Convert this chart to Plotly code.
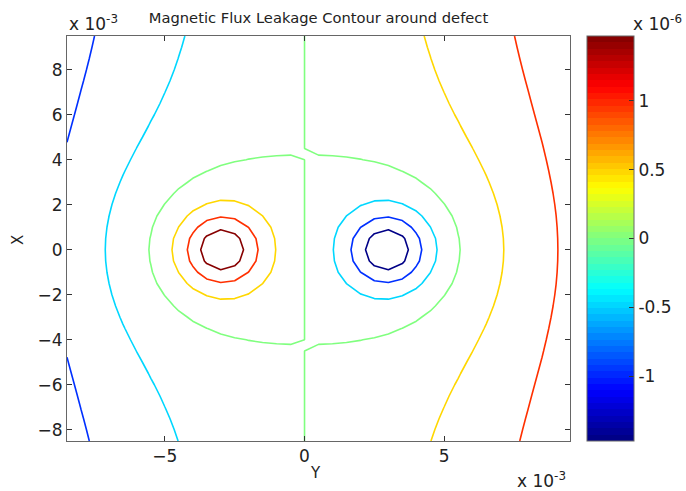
import numpy as np
import plotly.graph_objects as go

# Scan grid (units of 1e-3 m), 0.5 mm step
x_mm = np.arange(-8.5, 9.51, 0.5)
y_mm = np.arange(-8.5, 9.51, 0.5)

# Leakage model: two opposite poles at the defect walls plus the magnetising background
pole_x = [-2.98, 2.98]         # pole positions along Y axis (mm)
pole_q = [17.39, -17.39]       # pole strengths
pole_lift = 1.90               # sensor lift-off above the poles (mm)
pole_stretch = 1.146           # elongation of the poles along X
pole_power = 1.63              # fall-off exponent
bg_lin = 0.0407                # background gradient (1e-6 per mm)
bg_cub = 0.000868              # cubic growth of the background along Y
bg_cross = 0.001687            # background growth along X
bg_scale = 8.6                 # decay length of the non-linear background (mm)

# Contour levels and colour limits (units of 1e-6)
levels = [-1.47, -0.98, -0.49, 0.0, 0.49, 0.98, 1.47]
c_lim = [-1.47, 1.47]
cbar_ticks = [-1, -0.5, 0, 0.5, 1]
cbar_labels = ["-1", "-0.5", "0", "0.5", "1"]
x_ticks = [-5, 0, 5]
y_ticks = [-8, -6, -4, -2, 0, 2, 4, 6, 8]

XX, YY = np.meshgrid(x_mm, y_mm)
damp = 1.0 / (1.0 + (YY / bg_scale) ** 2)
B = bg_lin * XX + (bg_cub * XX ** 3 + bg_cross * XX * YY ** 2) * damp
for px, q in zip(pole_x, pole_q):
    B = B + q * ((XX - px) ** 2 + (YY / pole_stretch) ** 2 + pole_lift ** 2) ** (-pole_power)


def jet(n=64):
    out = []
    for i in range(n):
        t = (i + 0.5) / n
        r = np.clip(1.5 - abs(4 * t - 3), 0, 1)
        g = np.clip(1.5 - abs(4 * t - 2), 0, 1)
        b = np.clip(1.5 - abs(4 * t - 1), 0, 1)
        out.append("rgb(%d,%d,%d)" % (round(r * 255), round(g * 255), round(b * 255)))
    return out


jet_cols = jet(64)
jet_smooth = [[i / 63, c] for i, c in enumerate(jet_cols)]
jet_steps = []
for i, c in enumerate(jet_cols):
    jet_steps.append([i / 64, c])
    jet_steps.append([(i + 1) / 64, c])

FONT = "DejaVu Sans"
TXT = "#222222"
AX = "#666666"
PL, PR, PT, PB = 67, 570, 36, 441  # plot area in pixels
PW, PH = PR - PL, PB - PT

fig = go.Figure()
fig.add_trace(go.Contour(
    x=x_mm, y=y_mm, z=B,
    contours=dict(coloring="lines", start=levels[0], end=levels[-1] + 1e-4,
                  size=levels[1] - levels[0], showlabels=False),
    line=dict(width=1.6, smoothing=0),
    colorscale=jet_smooth, zmin=c_lim[0], zmax=c_lim[1], zauto=False,
    showscale=False, hoverinfo="skip",
))

cb_x = (587 - PL) / PW
fig.add_trace(go.Scatter(
    x=[None], y=[None], mode="markers", showlegend=False, hoverinfo="skip",
    marker=dict(color=[0], cmin=c_lim[0], cmax=c_lim[1], colorscale=jet_steps,
                showscale=True,
                colorbar=dict(x=cb_x, xanchor="left", xpad=0, ypad=0,
                              y=0.5, yanchor="middle", len=1.0, lenmode="fraction",
                              thickness=47, outlinewidth=1, outlinecolor=AX,
                              tickvals=cbar_ticks, ticktext=cbar_labels,
                              ticks="inside", ticklen=5, tickcolor="#333333",
                              tickfont=dict(family=FONT, size=17, color=TXT))),
))

# tick marks on the left edge of the colour bar
for v in cbar_ticks:
    yy = (v - c_lim[0]) / (c_lim[1] - c_lim[0])
    fig.add_shape(type="line", xref="paper", yref="paper",
                  x0=cb_x, x1=cb_x + 5 / PW, y0=yy, y1=yy,
                  line=dict(color="#333333", width=1))

fig.update_layout(
    width=686, height=491,
    margin=dict(l=PL, r=686 - PR, t=PT, b=491 - PB, autoexpand=False),
    paper_bgcolor="white", plot_bgcolor="white",
    showlegend=False,
    font=dict(family=FONT, color=TXT),
    title=dict(text="Magnetic Flux Leakage Contour around defect",
               x=(PL + PR) / 2 / 686, xanchor="center", y=1 - 18 / 491, yanchor="middle",
               font=dict(family=FONT, size=14.7, color=TXT)),
    xaxis=dict(range=[-8.5, 9.5], tickvals=x_ticks, ticks="inside", ticklen=5,
               tickcolor="#333333", showgrid=False, zeroline=False,
               showline=True, linecolor=AX, linewidth=1, mirror="ticks",
               tickfont=dict(family=FONT, size=17, color=TXT)),
    yaxis=dict(range=[-8.5, 9.5], tickvals=y_ticks, ticks="inside", ticklen=5,
               tickcolor="#333333", showgrid=False, zeroline=False,
               showline=True, linecolor=AX, linewidth=1, mirror="ticks",
               tickfont=dict(family=FONT, size=17, color=TXT)),
)

# axis titles
fig.add_annotation(text="Y", xref="paper", yref="paper", x=(315 - PL) / PW, y=(PB - 473) / PH,
                   xanchor="center", yanchor="middle", showarrow=False,
                   font=dict(family=FONT, size=15, color=TXT))
fig.add_annotation(text="X", xref="paper", yref="paper", x=(18 - PL) / PW, y=(PB - 240) / PH,
                   xanchor="center", yanchor="middle", showarrow=False, textangle=-90,
                   font=dict(family=FONT, size=15, color=TXT))

# exponent labels
fig.add_annotation(text="x 10<sup>-3</sup>", xref="paper", yref="paper", x=0, y=1.0,
                   xanchor="left", yanchor="bottom", showarrow=False,
                   font=dict(family=FONT, size=17, color=TXT))
fig.add_annotation(text="x 10<sup>-3</sup>", xref="paper", yref="paper", x=(568 - PL) / PW, y=(PB - 480) / PH,
                   xanchor="right", yanchor="middle", showarrow=False,
                   font=dict(family=FONT, size=17, color=TXT))
fig.add_annotation(text="x 10<sup>-6</sup>", xref="paper", yref="paper", x=(684 - PL) / PW, y=1.0,
                   xanchor="right", yanchor="bottom", showarrow=False,
                   font=dict(family=FONT, size=17, color=TXT))

fig.write_html("out.html")
